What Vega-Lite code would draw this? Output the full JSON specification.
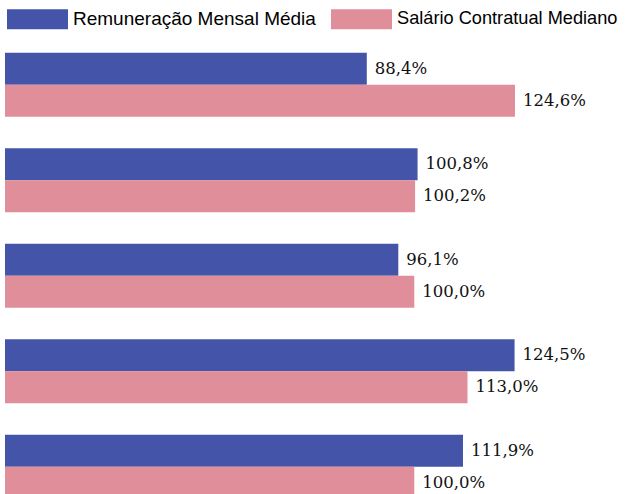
{
  "$schema": "https://vega.github.io/schema/vega-lite/v6.json",
  "width": 573,
  "height": 477.5,
  "autosize": {"type": "none"},
  "padding": {"left": 5, "top": 37, "right": 47, "bottom": 0},
  "background": "white",
  "data": {
    "values": [
      {"grupo": "1", "serie": "Remuneração Mensal Média", "valor": 88.4, "rotulo": "88,4%"},
      {"grupo": "1", "serie": "Salário Contratual Mediano", "valor": 124.6, "rotulo": "124,6%"},
      {"grupo": "2", "serie": "Remuneração Mensal Média", "valor": 100.8, "rotulo": "100,8%"},
      {"grupo": "2", "serie": "Salário Contratual Mediano", "valor": 100.2, "rotulo": "100,2%"},
      {"grupo": "3", "serie": "Remuneração Mensal Média", "valor": 96.1, "rotulo": "96,1%"},
      {"grupo": "3", "serie": "Salário Contratual Mediano", "valor": 100.0, "rotulo": "100,0%"},
      {"grupo": "4", "serie": "Remuneração Mensal Média", "valor": 124.5, "rotulo": "124,5%"},
      {"grupo": "4", "serie": "Salário Contratual Mediano", "valor": 113.0, "rotulo": "113,0%"},
      {"grupo": "5", "serie": "Remuneração Mensal Média", "valor": 111.9, "rotulo": "111,9%"},
      {"grupo": "5", "serie": "Salário Contratual Mediano", "valor": 100.0, "rotulo": "100,0%"}
    ]
  },
  "encoding": {
    "y": {"field": "grupo", "type": "nominal", "axis": null, "scale": {"paddingInner": 0.33, "paddingOuter": 0.165}},
    "yOffset": {"field": "serie", "type": "nominal", "scale": {"paddingInner": 0, "paddingOuter": 0}},
    "x": {"field": "valor", "type": "quantitative", "axis": null, "scale": {"domain": [0, 140], "nice": false}}
  },
  "layer": [
    {
      "mark": {"type": "bar"},
      "encoding": {
        "color": {
          "field": "serie",
          "type": "nominal",
          "scale": {"domain": ["Remuneração Mensal Média", "Salário Contratual Mediano"], "range": ["#4454A8", "#E08E9A"]},
          "legend": {
            "title": null,
            "orient": "none",
            "direction": "horizontal",
            "legendX": 2,
            "legendY": -48.5,
            "padding": 0,
            "symbolType": "M-1,-0.328H1V0.328H-1Z",
            "symbolSize": 3721,
            "symbolStrokeWidth": 0,
            "symbolOpacity": 1,
            "labelFont": "Liberation Sans",
            "labelFontSize": 19,
            "labelColor": "#000000",
            "labelOffset": 5,
            "columnPadding": 15,
            "labelLimit": 400,
            "encode": {
              "labels": {
                "update": {
                  "fontSize": {"signal": "datum.label == 'Salário Contratual Mediano' ? 18.2 : 19"}
                }
              }
            }
          }
        }
      }
    },
    {
      "mark": {"type": "text", "align": "left", "baseline": "middle", "dx": 8, "dy": 0, "font": "DejaVu Serif", "fontSize": 16.5, "color": "#111111"},
      "encoding": {
        "text": {"field": "rotulo", "type": "nominal"}
      }
    }
  ],
  "config": {"view": {"stroke": null}}
}
